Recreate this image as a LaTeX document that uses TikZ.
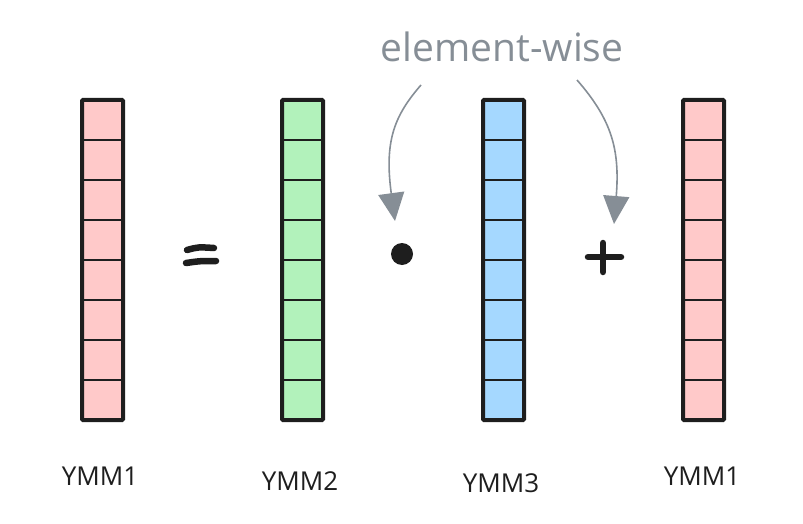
\documentclass[tikz,border=0pt]{standalone}
\usepackage{fontspec}
\setmainfont{Open Sans}
\usetikzlibrary{arrows.meta}
\definecolor{ink}{HTML}{1E1E1E}
\definecolor{pinkc}{HTML}{FFC9C9}
\definecolor{greenc}{HTML}{B2F2BB}
\definecolor{bluec}{HTML}{A5D8FF}
\definecolor{grayc}{HTML}{868E96}
\tikzset{
  reglabel/.style={font=\fontsize{26}{31}\selectfont, text=ink, inner sep=0pt},
  noteline/.style={draw=grayc, line width=1.6pt, -{Triangle[length=28pt,width=26pt]}, grayc},
  opstroke/.style={draw=ink, line width=6.5pt, line cap=round},
}
% one vector register: 8 stacked cells
\newcommand{\regcol}[2]{%
  \fill[#2] (#1,-100) rectangle ++(41,-320);
  \foreach \k in {1,...,7}
    \draw[ink, line width=2pt] (#1,-100-40*\k) -- ++(41,0);
  \draw[ink, line width=4pt, rounded corners=1pt] (#1,-100) rectangle ++(41,-320);
}
\begin{document}
\begin{tikzpicture}[x=1pt,y=1pt]
  \useasboundingbox (0,0) rectangle (803,-524);
  \regcol{82}{pinkc}
  \regcol{282}{greenc}
  \regcol{483}{bluec}
  \regcol{683}{pinkc}

  \node[reglabel] (l1) at (100,-476) {YMM1};
  \node[reglabel] (l2) at (300,-481) {YMM2};
  \node[reglabel] (l3) at (501,-483) {YMM3};
  \node[reglabel] (l4) at (702,-476) {YMM1};

  % equals sign
  \draw[opstroke] (187,-250) .. controls (198,-247) .. (214,-248);
  \draw[opstroke] (186,-263) .. controls (200,-261) .. (216,-261);
  % element-wise product dot
  \fill[ink] (402,-254) circle (11);
  % plus sign
  \draw[opstroke] (588,-257) -- (621,-257);
  \draw[opstroke] (603,-243) -- (603,-272);

  \node[font=\fontsize{39}{46}\selectfont, text=grayc, inner sep=0pt] (note) at (502,-47) {element-wise};
  \coordinate (s1) at (421,-85);
  \coordinate (t1) at (395,-221);
  \coordinate (s2) at (577,-80);
  \coordinate (t2) at (614,-224);
  \draw[noteline] (s1) .. controls (395,-115) and (384,-140) .. (t1);
  \draw[noteline] (s2) .. controls (612,-120) and (620,-150) .. (t2);
\end{tikzpicture}
\end{document}
